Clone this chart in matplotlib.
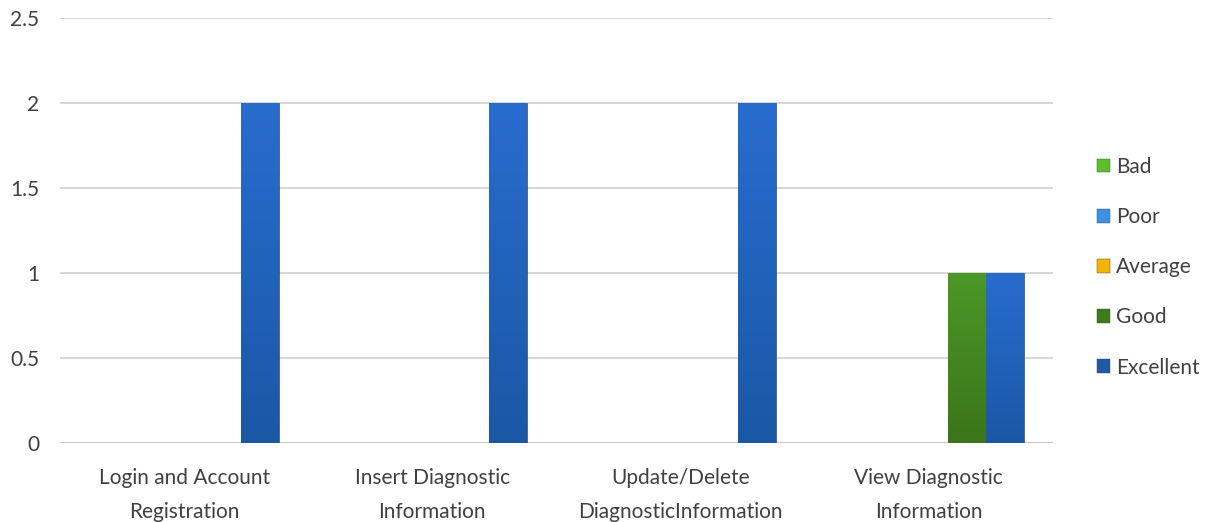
import numpy as np
import matplotlib
matplotlib.use("Agg")
import matplotlib.pyplot as plt
from matplotlib.colors import LinearSegmentedColormap

categories = ["Login and Account\nRegistration", "Insert Diagnostic\nInformation",
              "Update/Delete\nDiagnosticInformation", "View Diagnostic\nInformation"]
series = ["Bad", "Poor", "Average", "Good", "Excellent"]
bad = [0, 0, 0, 0]
poor = [0, 0, 0, 0]
average = [0, 0, 0, 0]
good = [0, 0, 0, 1]
excellent = [2, 2, 2, 1]
values = [bad, poor, average, good, excellent]

legend_colors = ["#5cc02c", "#3d8fe8", "#f4b400", "#3b7d1a", "#1f5aa6"]
grad_top = ["#6fd03c", "#4a9ef0", "#ffc20e", "#4c9828", "#286cce"]
grad_bot = ["#4aa41f", "#2f7bd0", "#e0a000", "#3a7519", "#1a58a6"]

plt.rcParams['font.family'] = ['Lato', 'DejaVu Sans']
fig = plt.figure(figsize=(12.07, 5.22), dpi=100)
ax = fig.add_axes([0.0497, 0.1513, 0.8227, 0.8142])

x = np.arange(len(categories))
w = 0.153
ax.set_yticks([0, 0.5, 1, 1.5, 2, 2.5])
ax.set_yticklabels(["0", "0.5", "1", "1.5", "2", "2.5"])
ax.grid(axis='y', color='#d0d0d0', linewidth=1.2)
ax.set_axisbelow(True)
for s in ax.spines.values():
    s.set_visible(False)
ax.axhline(0, color='#c8c8c8', linewidth=1.5, zorder=1)

handles = []
for i, (name, vals) in enumerate(zip(series, values)):
    offs = (i - 2) * w
    bars = ax.bar(x + offs, vals, width=w, color=legend_colors[i], label=name,
                  edgecolor='#2a3a50', linewidth=0.4, zorder=2)
    cmap = LinearSegmentedColormap.from_list("g%d" % i, [grad_bot[i], grad_top[i]])
    for b in bars:
        h = b.get_height()
        if h <= 0:
            continue
        x0 = b.get_x()
        grad = np.linspace(0, 1, 256).reshape(-1, 1)
        im = ax.imshow(grad, extent=[x0, x0 + b.get_width(), 0, h], origin='lower',
                       cmap=cmap, aspect='auto', zorder=2.5)
        im.set_clip_path(b)
    handles.append(plt.Rectangle((0, 0), 1, 1, facecolor=legend_colors[i],
                                 edgecolor='#444444', linewidth=0.3))
ax.set_xlim(-0.5, len(categories) - 0.5)
ax.set_ylim(0, 2.5)

ax.set_xticks(x)
ax.set_xticklabels(categories, fontsize=15, color='#404040', linespacing=1.9)
ax.tick_params(axis='x', length=0, pad=18)
ax.tick_params(axis='y', length=0, pad=15, labelsize=15, labelcolor='#404040')

fig.legend(handles, series, loc='center left', bbox_to_anchor=(0.893, 0.488),
           frameon=False, fontsize=15, labelcolor='#404040', handlelength=0.65,
           handleheight=0.65, handletextpad=0.3, labelspacing=1.45)

fig.savefig("out.png", dpi=100)
